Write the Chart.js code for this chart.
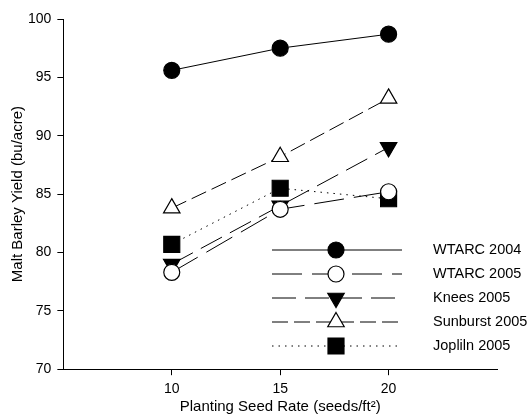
<!DOCTYPE html>
<html>
<head>
<meta charset="utf-8">
<script src="https://cdn.jsdelivr.net/npm/chart.js@4/dist/chart.umd.min.js"></script>
<style>
  html, body { margin: 0; padding: 0; background: #fff; }
  #wrap { width: 528px; height: 419px; }
</style>
</head>
<body>
<div id="wrap"><canvas id="grafica"></canvas></div>
<script>
// datos
const tasaSemilla = [10, 15, 20];
const wtarc2004 = [95.6, 97.5, 98.7];
const wtarc2005 = [78.3, 83.7, 85.2];
const knees2005 = [79.0, 84.0, 89.0];
const sunburst2005 = [83.8, 88.2, 93.2];
const jopliln2005 = [80.7, 85.5, 84.6];
const ticksX = [10, 15, 20];
const ticksY = [70, 75, 80, 85, 90, 95, 100];

const fuente = "'Liberation Sans', Arial, sans-serif";
const puntos = (vals) => vals.map((v, i) => ({ x: tasaSemilla[i], y: v }));

const series = [
  { label: "WTARC 2004", data: puntos(wtarc2004), dash: [], estilo: "circle", relleno: "#000", radio: 8, rot: 0 },
  { label: "WTARC 2005", data: puntos(wtarc2005), dash: [30, 10], estilo: "circle", relleno: "#fff", radio: 8, rot: 0 },
  { label: "Knees 2005", data: puntos(knees2005), dash: [24, 9], estilo: "triangle", relleno: "#000", radio: 9.5, rot: 180 },
  { label: "Sunburst 2005", data: puntos(sunburst2005), dash: [16, 6], estilo: "triangle", relleno: "#fff", radio: 9.5, rot: 0 },
  { label: "Jopliln 2005", data: puntos(jopliln2005), dash: [1.5, 5], estilo: "rect", relleno: "#000", radio: 11.3, rot: 0 },
];

// leyenda dentro del area de la grafica
const leyendaPlugin = {
  id: "leyendaLineas",
  afterDatasetsDraw(chart) {
    const ctx = chart.ctx;
    const x0 = 272, x1 = 402, xm = 336, xt = 433;
    const y0 = 250, paso = 24;
    chart.data.datasets.forEach((ds, i) => {
      const y = y0 + i * paso;
      ctx.save();
      ctx.strokeStyle = "#000";
      ctx.lineWidth = 1;
      ctx.setLineDash(ds.borderDash || []);
      ctx.beginPath();
      ctx.moveTo(x0, y);
      ctx.lineTo(x1, y);
      ctx.stroke();
      ctx.setLineDash([]);
      ctx.fillStyle = ds.pointBackgroundColor;
      ctx.strokeStyle = "#000";
      ctx.lineWidth = 1.2;
      Chart.helpers.drawPoint(ctx, {
        pointStyle: ds.pointStyle,
        rotation: ds.pointRotation,
        radius: ds.pointRadius,
        borderWidth: 1.2,
      }, xm, y);
      ctx.fillStyle = "#000";
      ctx.font = "14.5px " + fuente;
      ctx.textBaseline = "middle";
      ctx.textAlign = "left";
      ctx.fillText(ds.label, xt, y);
      ctx.restore();
    });
  },
};

new Chart(document.getElementById("grafica"), {
  type: "scatter",
  data: {
    datasets: series.map((s) => ({
      label: s.label,
      data: s.data,
      showLine: true,
      borderColor: "#000",
      borderWidth: 1,
      borderDash: s.dash,
      pointStyle: s.estilo,
      pointRotation: s.rot,
      pointRadius: s.radio,
      pointHoverRadius: s.radio,
      pointBackgroundColor: s.relleno,
      pointBorderColor: "#000",
      pointBorderWidth: 1.2,
    })),
  },
  options: {
    responsive: true,
    maintainAspectRatio: false,
    animation: false,
    layout: { padding: { top: 19, right: 31, left: 13, bottom: 9 } },
    plugins: {
      legend: { display: false },
      tooltip: { enabled: false },
    },
    scales: {
      x: {
        type: "linear",
        min: 5,
        max: 25,
        afterBuildTicks: (axis) => { axis.ticks = ticksX.map((v) => ({ value: v })); },
        grid: { drawOnChartArea: false, drawTicks: true, tickLength: 6, color: "#000" },
        border: { color: "#000", width: 1 },
        ticks: { color: "#000", padding: 6, font: { size: 14, family: fuente } },
        title: {
          display: true,
          text: "Planting Seed Rate (seeds/ft²)",
          color: "#000",
          padding: { top: 0, bottom: 0 },
          font: { size: 15, family: fuente, lineHeight: 0.4 },
        },
      },
      y: {
        min: 70,
        max: 100,
        afterBuildTicks: (axis) => { axis.ticks = ticksY.map((v) => ({ value: v })); },
        grid: { drawOnChartArea: false, drawTicks: true, tickLength: 6, color: "#000" },
        border: { color: "#000", width: 1 },
        ticks: { color: "#000", padding: 6, font: { size: 14, family: fuente } },
        title: {
          display: true,
          text: "Malt Barley Yield (bu/acre)",
          color: "#000",
          padding: { top: 0, bottom: 0 },
          font: { size: 15, family: fuente, lineHeight: 0.6 },
        },
      },
    },
  },
  plugins: [leyendaPlugin],
});
</script>
</body>
</html>
